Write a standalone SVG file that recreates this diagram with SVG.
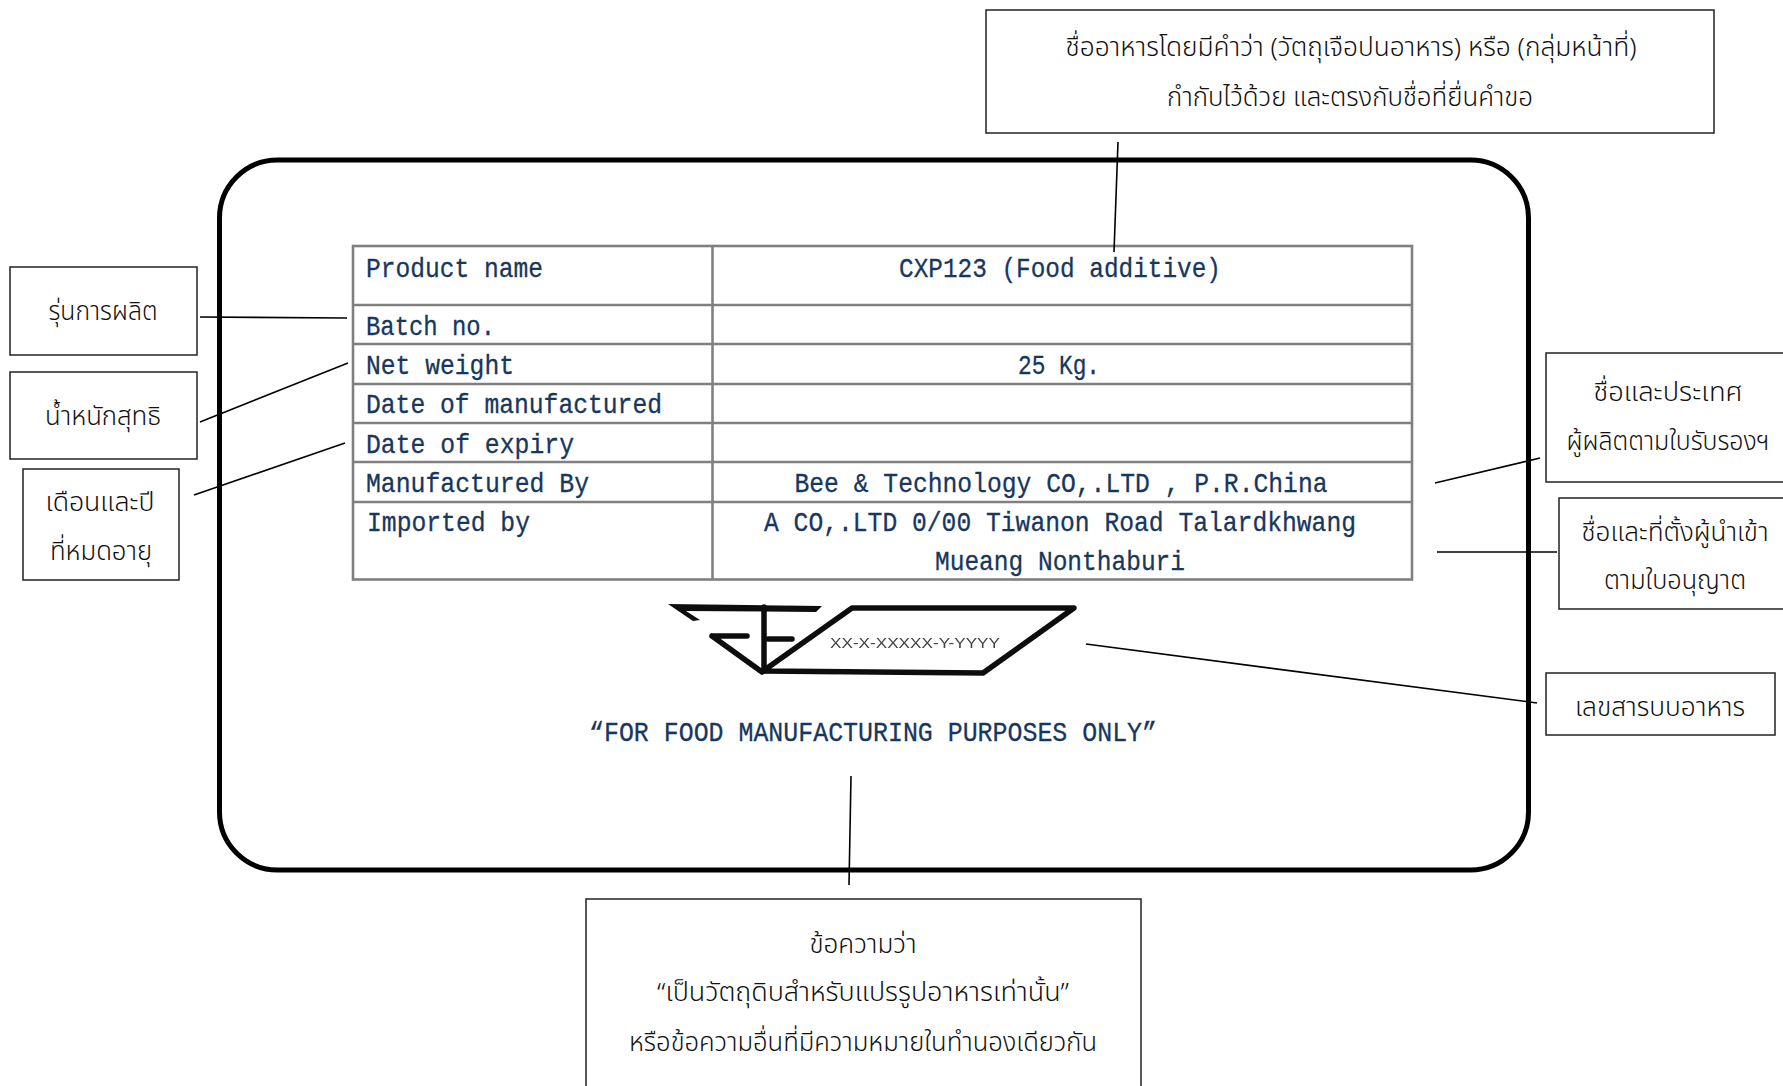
<svg xmlns="http://www.w3.org/2000/svg" width="1783" height="1086" viewBox="0 0 1783 1086">
<defs><filter id="soft" x="-5%" y="-5%" width="110%" height="110%"><feGaussianBlur stdDeviation="0.6"/></filter></defs>
<style>
.bg{fill:#fff}
.box{fill:#fff;stroke:#222;stroke-width:1.5}
.th{font-family:"Noto Sans Thai","Noto Sans","DejaVu Sans",sans-serif;font-size:26px;font-weight:300;fill:#111;text-anchor:middle}
.lb{font-family:"Liberation Mono",monospace;font-size:28px;fill:#17375e;stroke:#17375e;stroke-width:.3}
.mid{text-anchor:middle}
.grid{stroke:#808080;stroke-width:2.6;fill:none}
.conn{stroke:#000;stroke-width:1.6;fill:none}
.ink{stroke:#111;fill:none;stroke-linecap:round;stroke-linejoin:round}
</style>
<rect class="bg" width="1783" height="1086"/>
<g id="label-panel">
<rect x="219.500" y="160" width="1309" height="710" rx="58" ry="58" fill="#fff" stroke="#000" stroke-width="5"/>
</g>
<g id="info-table">
<g filter="url(#soft)">
<rect class="grid" x="353" y="246" width="1059" height="333.500"/>
<path class="grid" d="M712.500 246V579.500M353 305H1412M353 344H1412M353 384H1412M353 423H1412M353 462H1412M353 502H1412"/>
</g>
<text class="lb" x="366" y="277" textLength="177" lengthAdjust="spacingAndGlyphs">Product name</text>
<text class="lb" x="366" y="335" textLength="129" lengthAdjust="spacingAndGlyphs">Batch no.</text>
<text class="lb" x="366" y="374" textLength="148" lengthAdjust="spacingAndGlyphs">Net weight</text>
<text class="lb" x="366" y="413" textLength="296" lengthAdjust="spacingAndGlyphs">Date of manufactured</text>
<text class="lb" x="366" y="453" textLength="208" lengthAdjust="spacingAndGlyphs">Date of expiry</text>
<text class="lb" x="366" y="492" textLength="223" lengthAdjust="spacingAndGlyphs">Manufactured By</text>
<text class="lb" x="367" y="531" textLength="163" lengthAdjust="spacingAndGlyphs">Imported by</text>
<text class="lb mid" x="1060" y="277" textLength="322" lengthAdjust="spacingAndGlyphs">CXP123 (Food additive)</text>
<text class="lb mid" x="1059" y="374" textLength="82" lengthAdjust="spacingAndGlyphs">25 Kg.</text>
<text class="lb mid" x="1061" y="492" textLength="533" lengthAdjust="spacingAndGlyphs">Bee &amp; Technology CO,.LTD , P.R.China</text>
<text class="lb mid" x="1060" y="531" textLength="592" lengthAdjust="spacingAndGlyphs">A CO,.LTD 0/00 Tiwanon Road Talardkhwang</text>
<text class="lb mid" x="1060" y="570" textLength="250" lengthAdjust="spacingAndGlyphs">Mueang Nonthaburi</text>
</g>
<g id="serial-mark" filter="url(#soft)">
<path d="M668 604L822 606L816 612L686 611L700 620L693 621Z" fill="#111"/>
<path class="ink" stroke-width="5.500" d="M764 607V671M712 636L762 672M712 636H747M768 639H792"/>
<path class="ink" stroke-width="5.500" d="M852 608H1074L983 673L763 671Z"/>
<text x="915" y="648" text-anchor="middle" font-family="Liberation Sans, sans-serif" font-size="15px" fill="#444" textLength="170" lengthAdjust="spacingAndGlyphs">XX-X-XXXXX-Y-YYYY</text>
</g>
<g id="purpose-text">
<text class="lb mid" x="873" y="741" textLength="568" lengthAdjust="spacingAndGlyphs">“FOR FOOD MANUFACTURING PURPOSES ONLY”</text>
</g>
<g id="connectors">
<path class="conn" d="M1118 142L1114 252"/>
<path class="conn" d="M200 317L347 318"/>
<path class="conn" d="M200 422L348 363"/>
<path class="conn" d="M194 495L345 443"/>
<path class="conn" d="M1435 483L1540 458"/>
<path class="conn" d="M1437 552H1557"/>
<path class="conn" d="M1086 644L1537 703"/>
<path class="conn" d="M851 776L849 885"/>
</g>
<g id="note-name">
<rect class="box" x="986" y="10" width="728" height="123"/>
<text class="th" x="1351" y="56" textLength="571" lengthAdjust="spacingAndGlyphs">ชื่ออาหารโดยมีคำว่า (วัตถุเจือปนอาหาร) หรือ (กลุ่มหน้าที่)</text>
<text class="th" x="1350" y="106" textLength="366" lengthAdjust="spacingAndGlyphs">กำกับไว้ด้วย และตรงกับชื่อที่ยื่นคำขอ</text>
</g>
<g id="note-batch">
<rect class="box" x="10" y="267" width="187" height="88"/>
<text class="th" x="103" y="320" textLength="109" lengthAdjust="spacingAndGlyphs">รุ่นการผลิต</text>
</g>
<g id="note-weight">
<rect class="box" x="10" y="372" width="187" height="87"/>
<text class="th" x="103" y="425" textLength="116" lengthAdjust="spacingAndGlyphs">น้ำหนักสุทธิ</text>
</g>
<g id="note-expiry">
<rect class="box" x="23" y="469" width="156" height="111"/>
<text class="th" x="100" y="511" textLength="109" lengthAdjust="spacingAndGlyphs">เดือนและปี</text>
<text class="th" x="101" y="560" textLength="102" lengthAdjust="spacingAndGlyphs">ที่หมดอายุ</text>
</g>
<g id="note-maker">
<rect class="box" x="1546" y="353" width="250" height="129"/>
<text class="th" x="1668" y="401" textLength="149" lengthAdjust="spacingAndGlyphs">ชื่อและประเทศ</text>
<text class="th" x="1668" y="450" textLength="203" lengthAdjust="spacingAndGlyphs">ผู้ผลิตตามใบรับรองฯ</text>
</g>
<g id="note-importer">
<rect class="box" x="1559" y="498" width="240" height="111"/>
<text class="th" x="1675" y="541" textLength="187" lengthAdjust="spacingAndGlyphs">ชื่อและที่ตั้งผู้นำเข้า</text>
<text class="th" x="1675" y="589" textLength="142" lengthAdjust="spacingAndGlyphs">ตามใบอนุญาต</text>
</g>
<g id="note-serial">
<rect class="box" x="1546" y="673" width="229" height="62"/>
<text class="th" x="1660" y="716" textLength="170" lengthAdjust="spacingAndGlyphs">เลขสารบบอาหาร</text>
</g>
<g id="note-purpose">
<rect class="box" x="586" y="899" width="555" height="200"/>
<text class="th" x="863" y="953" textLength="107" lengthAdjust="spacingAndGlyphs">ข้อความว่า</text>
<text class="th" x="863" y="1001" textLength="412" lengthAdjust="spacingAndGlyphs">“เป็นวัตถุดิบสำหรับแปรรูปอาหารเท่านั้น”</text>
<text class="th" x="863" y="1051" textLength="468" lengthAdjust="spacingAndGlyphs">หรือข้อความอื่นที่มีความหมายในทำนองเดียวกัน</text>
</g>
</svg>
